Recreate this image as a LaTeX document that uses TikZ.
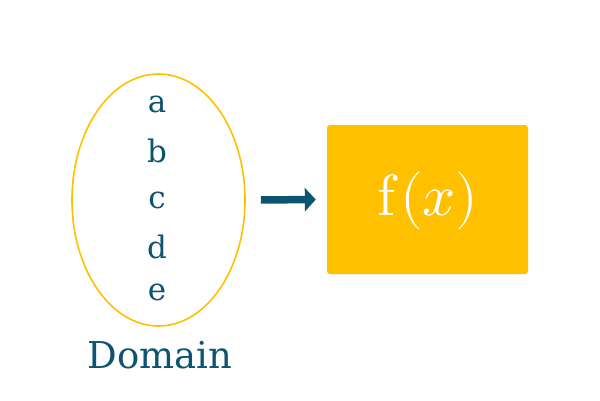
\documentclass[tikz,border=0pt]{standalone}
\usepackage{fontspec}
\usepackage{unicode-math}
\setmainfont{DejaVu Serif}
\usepackage{tikz}
\usetikzlibrary{shapes.geometric, arrows.meta, positioning}
\definecolor{tealdark}{HTML}{0E5470}
\definecolor{amber}{HTML}{FFC000}

\begin{document}
\begin{tikzpicture}[
			x=1pt, y=-1pt,
			every node/.style={
					text=tealdark,
					inner sep=0pt
				},
			elem/.style={anchor=base, font=\fontsize{31}{31}\selectfont}
		]
		\useasboundingbox (0,0) rectangle (600,400);

		% the set of inputs
		\node[
			ellipse,
			draw=amber,
			line width=1.6pt,
			minimum width=173pt,
			minimum height=252pt
		] (dom) at (158.5, 200) {};

		\node[elem] (ea) at (157, 112) {a};
		\node[elem] (eb) at (157, 162) {b};
		\node[elem] (ec) at (157, 208) {c};
		\node[elem] (ed) at (157, 258) {d};
		\node[elem] (ee) at (157, 300) {e};

		\node[anchor=base, font=\fontsize{37}{37}\selectfont] (lbl) at (160, 368) {Domain};

		% the function
		\node[
			fill=amber,
			rounded corners=3pt,
			minimum width=201pt,
			minimum height=149pt
		] (fn) at (427.5, 199.5) {};
		\node[anchor=base, text=white, font=\fontsize{58}{58}\selectfont] (fx) at (428, 215) {$\symup{f}(x)$};

		\draw[-{Triangle[length=11pt, width=23pt]}, line width=7.5pt, tealdark,
			shorten <=15pt, shorten >=11pt] (dom.east) -- (fn.west);
	\end{tikzpicture}
\end{document}
